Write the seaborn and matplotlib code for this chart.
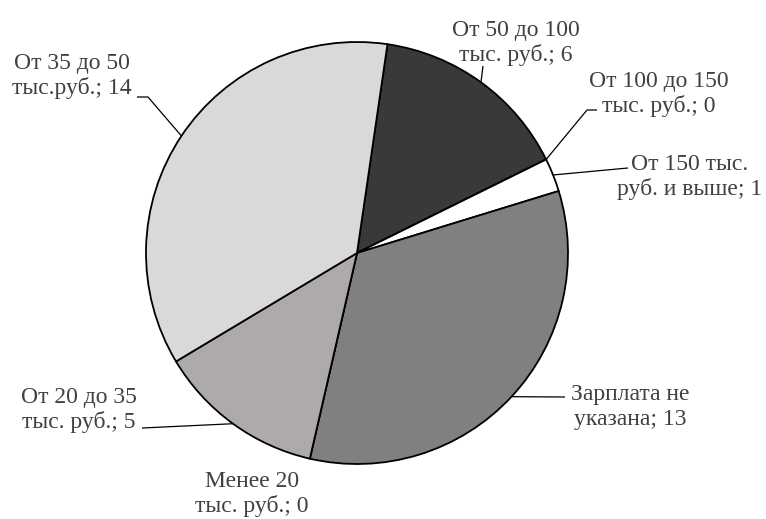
import matplotlib
matplotlib.use("Agg")
import matplotlib.pyplot as plt
import seaborn as sns
import numpy as np

sns.set_theme(style="white")
plt.rcParams['font.family'] = ['Liberation Serif', 'DejaVu Serif']

categories = ["От 50 до 100\nтыс. руб.", "От 100 до 150\nтыс. руб.", "От 150 тыс.\nруб. и выше",
              "Зарплата не\nуказана", "Менее 20\nтыс. руб.", "От 20 до 35\nтыс. руб.",
              "От 35 до 50\nтыс.руб."]
values = [6, 0, 1, 13, 0, 5, 14]
colors = ["#393939", "#ffffff", "#ffffff", "#808080", "#aeaaaa", "#aeaaaa", "#d9d9d9"]

W, H = 766, 519
CX, CY, R = 357, 253, 211

def px(x, y):
    return ((x - CX) / R, (CY - y) / R)

fig = plt.figure(figsize=(W / 100, H / 100), dpi=100)
ax = fig.add_axes([0, 0, 1, 1])
wedges, _ = ax.pie(values, colors=colors, startangle=81.7, counterclock=False,
                   radius=1, center=(0, 0),
                   wedgeprops=dict(edgecolor="black", linewidth=1.3))
ax.set_xlim(-CX / R, (W - CX) / R)
ax.set_ylim(-(H - CY) / R, CY / R)
ax.set_aspect("equal")
ax.axis("off")

# label layout: text centre (px), leader path points after the anchor (px)
layout = [
    ((516, 43), [(483, 66)]),
    ((659, 94), [(587, 110), (597, 110)]),
    ((690, 177), [(628, 168)]),
    ((630, 407), [(565, 397)]),
    ((252, 494), None),
    ((79, 410), [(142, 428)]),
    ((72, 76), [(148, 97), (137, 97)]),
]

for w, cat, val, (tpos, path) in zip(wedges, categories, values, layout):
    mid = np.deg2rad((w.theta1 + w.theta2) / 2)
    anchor = (np.cos(mid), np.sin(mid))
    tx, ty = px(*tpos)
    ax.text(tx, ty, f"{cat}; {val}", ha="center", va="center", multialignment="center",
            fontsize=17, color="#404040", linespacing=1.2)
    if path:
        pts = [anchor] + [px(*p) for p in path]
        xs, ys = zip(*pts)
        ax.plot(xs, ys, color="black", linewidth=0.9, solid_capstyle="butt")

fig.savefig("out.png", dpi=100, facecolor="white")
